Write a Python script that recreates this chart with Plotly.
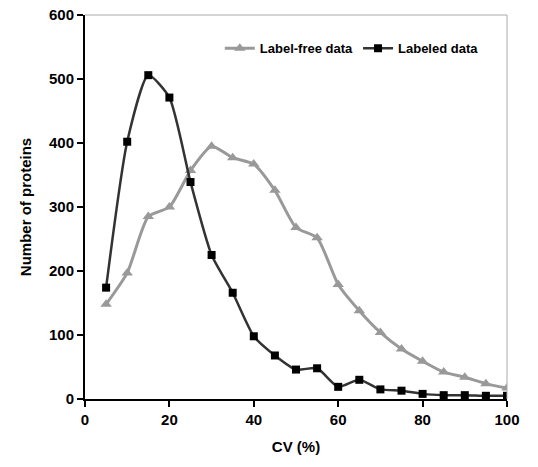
import plotly.graph_objects as go

cv = [5, 10, 15, 20, 25, 30, 35, 40, 45, 50, 55, 60, 65, 70, 75, 80, 85, 90, 95, 100]
label_free = [148, 197, 285, 300, 357, 395, 377, 367, 326, 268, 252, 179, 138, 104, 78, 59, 42, 34, 24, 17]
labeled = [174, 402, 506, 471, 339, 225, 166, 98, 68, 46, 48, 19, 30, 15, 13, 8, 6, 6, 5, 5]
x_ticks = [0, 20, 40, 60, 80, 100]
y_ticks = [0, 100, 200, 300, 400, 500, 600]

fig = go.Figure()
fig.add_trace(go.Scatter(
    x=cv, y=label_free, name="Label-free data", mode="lines+markers",
    line=dict(color="#999999", width=3, shape="spline", smoothing=0.6),
    marker=dict(symbol="triangle-up", size=10, color="#999999"),
))
fig.add_trace(go.Scatter(
    x=cv, y=labeled, name="Labeled data", mode="lines+markers",
    line=dict(color="#333333", width=2.5, shape="spline", smoothing=0.6),
    marker=dict(symbol="square", size=8, color="#000000"),
))

font_family = "Liberation Sans, Arial, sans-serif"
fig.update_layout(
    width=538, height=467,
    margin=dict(l=85, r=31, t=15, b=68, autoexpand=False),
    paper_bgcolor="white", plot_bgcolor="white",
    font=dict(family=font_family, size=15, color="black", weight="bold"),
    showlegend=True,
    legend=dict(orientation="h", x=0.945, y=0.913, xanchor="right", yanchor="middle",
                font=dict(size=13, weight="bold"), bgcolor="rgba(0,0,0,0)",
                itemwidth=30, tracegroupgap=0),
    xaxis=dict(range=[0, 100], tickvals=x_ticks, showgrid=False, zeroline=False,
               automargin=False,
               showline=True, linecolor="black", linewidth=2, ticks="outside",
               ticklen=6, tickwidth=2, tickcolor="black",
               title=dict(text="CV (%)", font=dict(size=15, weight="bold"), standoff=14)),
    yaxis=dict(range=[0, 600], tickvals=y_ticks, showgrid=False, zeroline=False,
               automargin=False,
               showline=True, linecolor="black", linewidth=2, ticks="outside",
               ticklen=6, tickwidth=2, tickcolor="black",
               title=dict(text="Number of proteins", font=dict(size=15, weight="bold"), standoff=14)),
    shapes=[
        dict(type="line", xref="paper", yref="paper", x0=0, x1=1, y0=1, y1=1,
             line=dict(color="#aaaaaa", width=1)),
        dict(type="line", xref="paper", yref="paper", x0=1, x1=1, y0=0, y1=1,
             line=dict(color="#aaaaaa", width=1)),
    ],
)
fig.write_html("out.html", config={"displayModeBar": False},
               post_script="document.body.style.margin='0';document.body.style.overflow='hidden';")
